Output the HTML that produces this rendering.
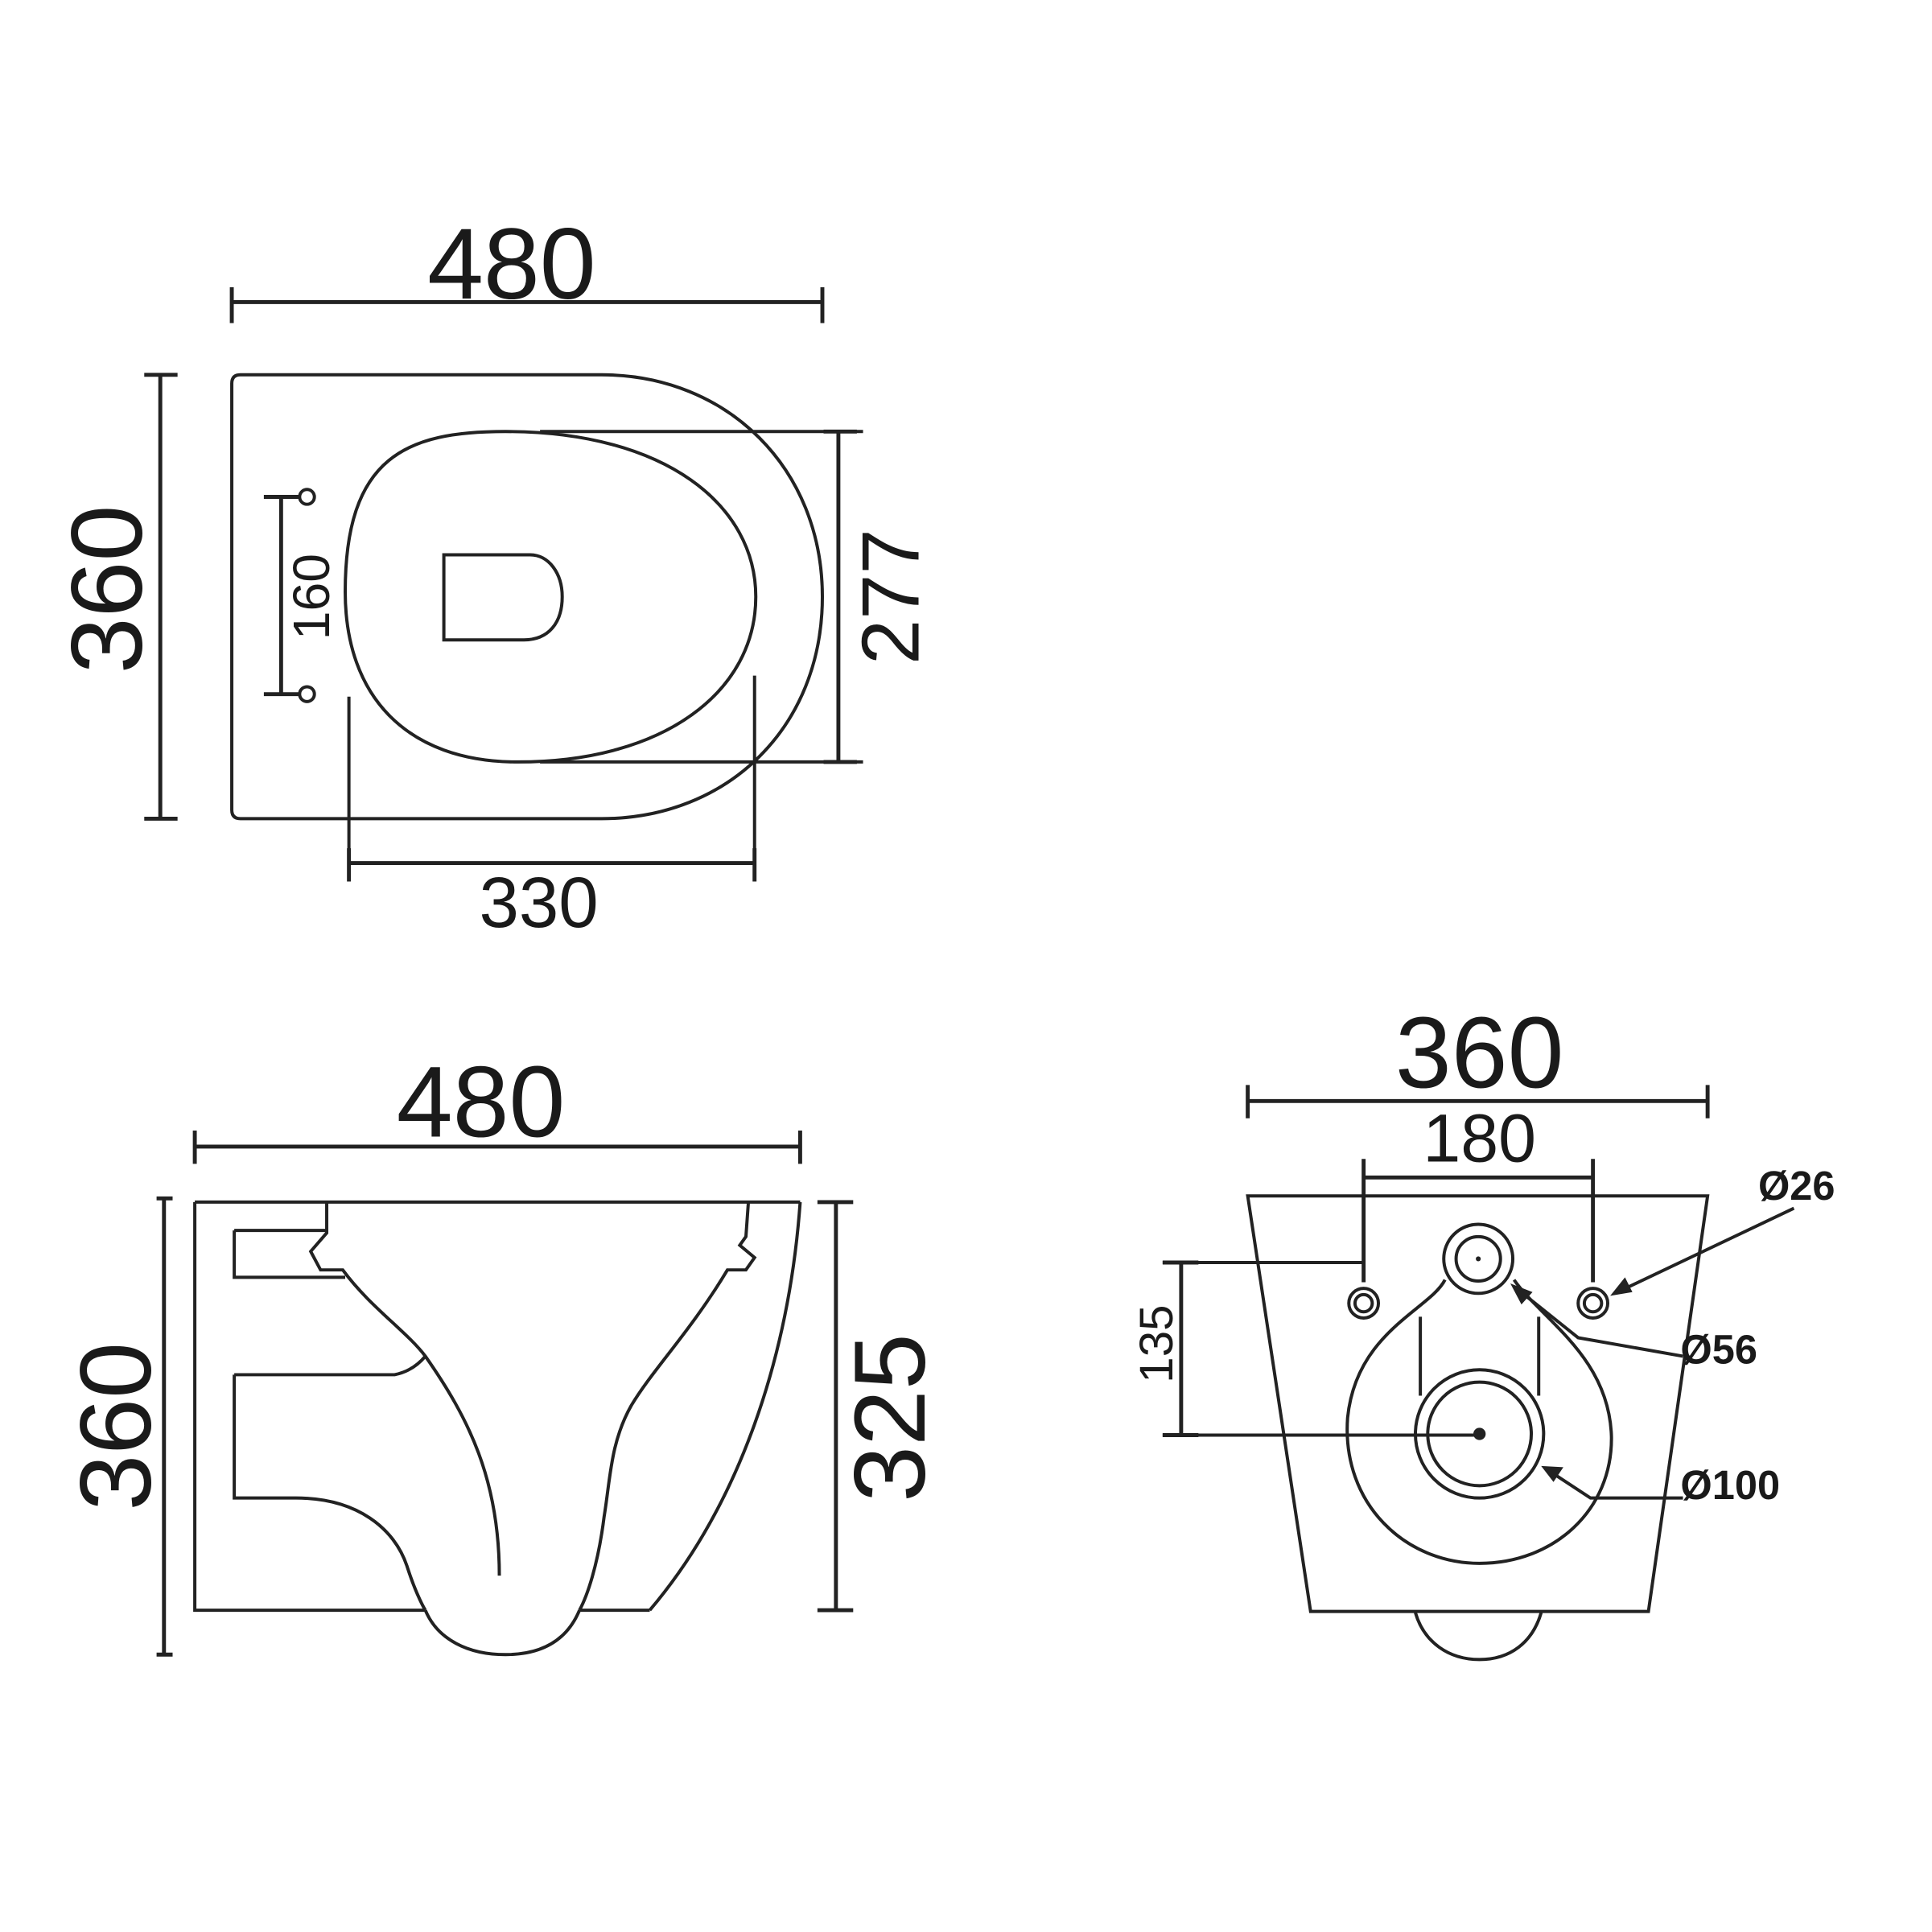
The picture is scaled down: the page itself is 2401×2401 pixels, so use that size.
<!DOCTYPE html>
<html><head><meta charset="utf-8"><style>
html,body{margin:0;padding:0;background:#fff}
svg{display:block}
text{font-family:"Liberation Sans",sans-serif;fill:#1a1a1a}
</style></head><body>
<svg width="2401" height="2401" viewBox="0 0 1567 1567" xmlns="http://www.w3.org/2000/svg">
<g fill="none" stroke="#222" stroke-width="2.6">
<!-- TOP VIEW -->
<path d="M188 245H667M188 233V262M667 233V262" stroke-width="3.2"/>
<path d="M130 304V664M117 304H144M117 664H144" stroke-width="3.2"/>
<path d="M195 304H488C590 304 667 380 667 484C667 590 590 664 488 664H195Q188 664 188 657V311Q188 304 195 304Z"/>
<path d="M410 350C330 350 280 370 280 480C280 565 330 618 420 618C540 618 613 560 613 484C613 410 540 350 410 350Z"/>
<path d="M680 350V618M668 350H695M668 618H695" stroke-width="3.2"/>
<path d="M438 350H700M438 618H700"/>
<path d="M283 700H612M283 688V715M612 688V715" stroke-width="3.2"/>
<path d="M283 565V715M612 548V715"/>
<path d="M228 403V563M214 403H242M214 563H242" stroke-width="3.2"/>
<circle cx="249" cy="403" r="6"/><circle cx="249" cy="563" r="6"/>
<path d="M360 450H430C445 450 456 465 456 484C456 505 445 519 425 519H360Z"/>
<!-- SIDE VIEW -->
<path d="M158 930H649M158 917V944M649 917V944" stroke-width="3.2"/>
<path d="M133 972V1342M127 972H140M127 1342H140" stroke-width="3.2"/>
<path d="M678 975V1306M663 975H692M663 1306H692" stroke-width="3.2"/>
<path d="M158 975H649M158 975V1306H345M470 1306H527"/>
<path d="M527 1306C600 1220 640 1100 649 975"/>
<path d="M345 1306C355 1330 380 1342 410 1342C440 1342 460 1330 470 1306"/>
<path d="M265 975V1000L252 1015L260 1030H278C300 1060 330 1080 345 1100C380 1150 405 1200 405 1278"/>
<path d="M190 998H265M190 998V1036H280"/>
<path d="M190 1115H320Q335 1112 345 1100M190 1115V1215H240C290 1215 320 1240 330 1270C338 1295 345 1306 345 1306"/>
<path d="M607 975L605 1003L600 1010L612 1020L605 1030H590C560 1080 530 1110 512 1140C495 1170 495 1200 490 1230C485 1270 476 1295 470 1306"/>
<!-- FRONT VIEW -->
<path d="M1012 893H1385M1012 880V907M1385 880V907" stroke-width="3.2"/>
<path d="M1106 955H1292M1106 940V1040M1292 940V1040" stroke-width="3.2"/>
<path d="M1012 970H1385L1337 1307H1063Z"/>
<path d="M1148 1308C1155 1332 1175 1346 1200 1346C1225 1346 1243 1332 1250 1308"/>
<path d="M958 1024V1164M943 1024H972M943 1164H972" stroke-width="3.2"/>
<path d="M943 1024H1106M943 1164H1200"/>
<circle cx="1106" cy="1057" r="12"/><circle cx="1106" cy="1057" r="7"/>
<circle cx="1292" cy="1057" r="12"/><circle cx="1292" cy="1057" r="7"/>
<circle cx="1199" cy="1021" r="28"/><circle cx="1199" cy="1021" r="18"/>
<path d="M1172 1038C1160 1062 1100 1080 1093 1150C1088 1220 1140 1268 1200 1268C1260 1268 1308 1225 1307 1165C1305 1100 1250 1070 1228 1038"/>
<path d="M1152 1068V1132M1248 1068V1132"/>
<circle cx="1200" cy="1163" r="52"/><circle cx="1200" cy="1163" r="42"/>
<path d="M1455 980L1312 1048"/>
<path d="M1365 1100L1280 1085L1230 1045"/>
<path d="M1365 1215H1290L1255 1192"/>
</g>
<g fill="#222">
<circle cx="1200" cy="1163" r="5"/><circle cx="1199" cy="1021" r="2"/>
<path d="M1306 1051L1318 1036L1324 1048Z"/>
<path d="M1225 1041L1243 1048L1234 1058Z"/>
<path d="M1250 1189L1268 1190L1260 1202Z"/>
</g>
<text x="415" y="242" font-size="82" text-anchor="middle">480</text>
<text transform="translate(115 478) rotate(-90)" font-size="82" text-anchor="middle">360</text>
<text transform="translate(745 484) rotate(-90)" font-size="66" text-anchor="middle">277</text>
<text x="437" y="752" font-size="58" text-anchor="middle">330</text>
<text transform="translate(267 484) rotate(-90)" font-size="42" text-anchor="middle">160</text>
<text x="390" y="922" font-size="82" text-anchor="middle">480</text>
<text transform="translate(122 1157) rotate(-90)" font-size="82" text-anchor="middle">360</text>
<text transform="translate(750 1150) rotate(-90)" font-size="82" text-anchor="middle">325</text>
<text x="1200" y="882" font-size="82" text-anchor="middle">360</text>
<text x="1200" y="942" font-size="55" text-anchor="middle">180</text>
<text transform="translate(951 1090) rotate(-90)" font-size="38" text-anchor="middle">135</text>
<text x="1426" y="973" font-size="33" font-weight="bold">Ø26</text>
<text x="1363" y="1106" font-size="33" font-weight="bold">Ø56</text>
<text x="1363" y="1216" font-size="33" font-weight="bold">Ø100</text>
</svg>
</body></html>
